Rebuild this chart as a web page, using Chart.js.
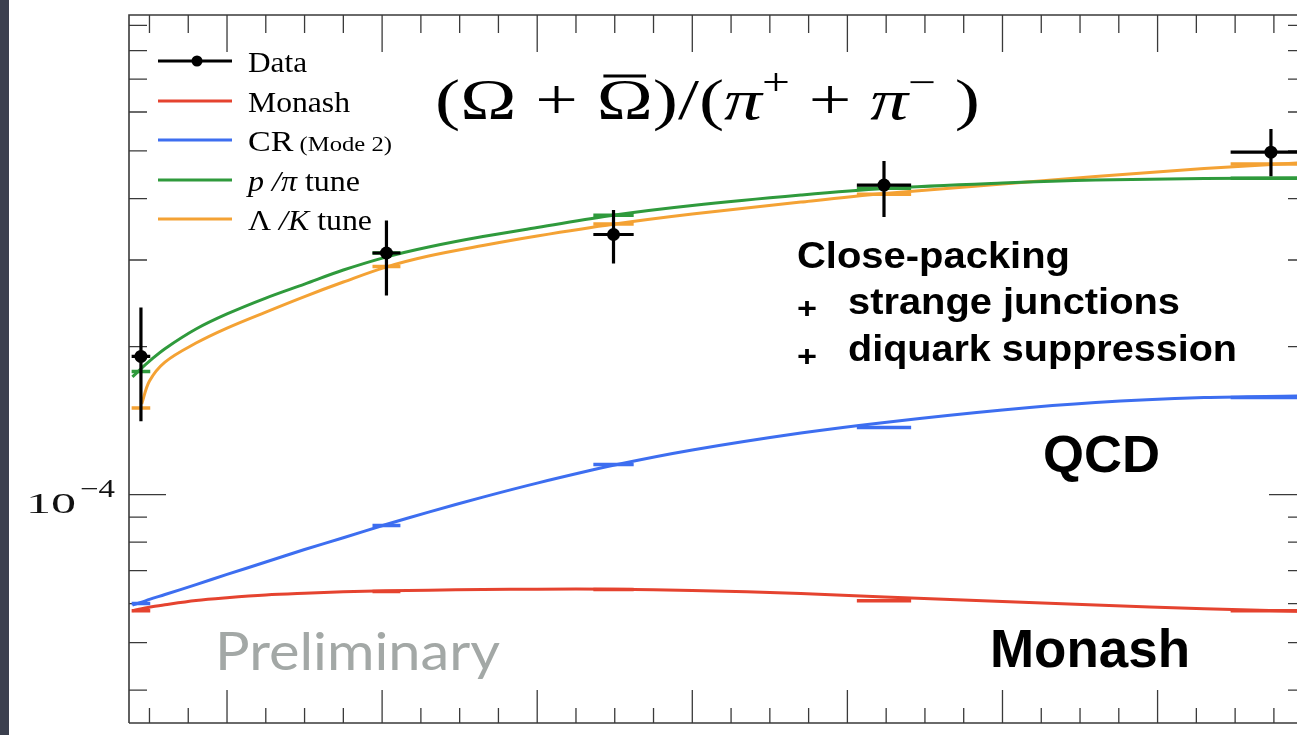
<!DOCTYPE html>
<html><head><meta charset="utf-8">
<script src="https://cdn.jsdelivr.net/npm/chart.js@4/dist/chart.umd.min.js"></script>
<style>
html,body{margin:0;padding:0;overflow:hidden;background:#fff;width:1297px;height:735px}
#strip{position:absolute;left:0;top:0;width:9px;height:735px;background:#3b3f4e;z-index:2}
#c{position:absolute;left:0;top:0}
</style></head><body>
<div id="strip"></div>
<canvas id="c" width="1310" height="735"></canvas>
<script>
// ---- data ----
const binCenters    = [4.45, 20.28, 34.92, 52.36, 77.31];
const binHalfWidths = [0.6, 0.9, 1.3, 1.75, 2.6];
const dataValues    = [1.91e-4, 3.10e-4, 3.38e-4, 4.26e-4, 4.97e-4];
const dataErrHigh   = [2.40e-4, 3.61e-4, 3.79e-4, 4.77e-4, 5.54e-4];
const dataErrLow    = [1.41e-4, 2.54e-4, 2.95e-4, 3.67e-4, 4.44e-4];
// model values per bin (bin markers)
const monashBins    = [0.580e-4, 0.635e-4, 0.641e-4, 0.608e-4, 0.580e-4];
const crMode2Bins   = [0.600e-4, 0.865e-4, 1.151e-4, 1.369e-4, 1.576e-4];
const pPiTuneBins   = [1.78e-4, 3.10e-4, 3.70e-4, 4.20e-4, 4.40e-4];
const lamKTuneBins  = [1.50e-4, 2.91e-4, 3.55e-4, 4.08e-4, 4.70e-4];
// smooth model curves (units of 1e-4)
const curveX        = [3.9, 4.5, 5, 6, 8, 10, 12.5, 15, 17.5, 20.25, 23, 26.5, 30, 35, 40, 47, 52.4, 60, 66, 73, 79];
const monashCurve   = [0.580,0.586,0.590,0.597,0.609,0.617,0.625,0.630,0.634,0.637,0.639,0.641,0.642,0.642,0.638,0.629,0.619,0.606,0.596,0.586,0.579];
const crMode2Curve  = [0.596,0.604,0.612,0.626,0.656,0.688,0.729,0.773,0.817,0.869,0.921,0.988,1.055,1.148,1.232,1.334,1.402,1.486,1.539,1.575,1.587];
const pPiTuneCurve  = [1.735,1.808,1.868,1.980,2.171,2.330,2.510,2.680,2.862,3.041,3.188,3.348,3.492,3.703,3.872,4.066,4.193,4.301,4.362,4.393,4.404];
const lamKTuneCurve = [null,1.528,1.702,1.860,2.033,2.181,2.351,2.528,2.706,2.902,3.056,3.210,3.356,3.550,3.720,3.935,4.095,4.282,4.435,4.604,4.724];
const curveUnit     = 1e-4;
const seriesNames   = ['Data', 'Monash', 'CR', 'p/π tune', 'Λ/K tune'];
const yMajorTicks   = [1e-4];
const yMinorTicks   = [4e-5,5e-5,6e-5,7e-5,8e-5,9e-5,2e-4,3e-4,4e-4,5e-4,6e-4,7e-4,8e-4,9e-4];
const yTickLabel    = ['10', '−4'];
const xMajorTicks   = [10,20,30,40,50,60,70];
const xMinorTicks   = [5,7.5,12.5,15,17.5,22.5,25,27.5,32.5,35,37.5,42.5,45,47.5,52.5,55,57.5,62.5,65,67.5,72.5,75,77.5];

const COL = {monash:'#e5432f', cr:'#3d6ef0', ppi:'#2f9a3c', lk:'#f4a234', data:'#000', axis:'#3a3a3a'};
const pts = (xs, vals, unit) => xs.map((x,i)=>({x, y: vals[i] == null ? null : vals[i]*unit}));

function richText(ctx, segs, x, y, sx, color){
  ctx.save();
  ctx.translate(x, y);
  ctx.scale(sx, 1);
  ctx.fillStyle = color || '#000';
  ctx.textBaseline = 'alphabetic';
  ctx.textAlign = 'left';
  let cx = 0; const pos = [];
  for (const s of segs){
    ctx.font = s.f;
    const w = ctx.measureText(s.t).width;
    ctx.fillText(s.t, cx + (s.dx||0), s.dy||0);
    pos.push({x: x + (cx + (s.dx||0))*sx, w: w*sx});
    cx += w + (s.dx||0);
  }
  ctx.restore();
  return pos;
}
function fitText(ctx, segs, x, y, width, color){
  ctx.save();
  let w = 0;
  for (const s of segs){ ctx.font = s.f; w += ctx.measureText(s.t).width + (s.dx||0); }
  ctx.restore();
  return richText(ctx, segs, x, y, width / w, color);
}

const decor = {
  id: 'decor',
  beforeDatasetsDraw(chart){
    const {ctx, chartArea:a, scales:{x, y}} = chart;
    ctx.save();
    ctx.strokeStyle = COL.axis; ctx.lineWidth = 1.6;
    ctx.beginPath();
    ctx.moveTo(a.left, a.bottom); ctx.lineTo(a.left, a.top); ctx.lineTo(a.right, a.top);
    ctx.lineTo(a.right, a.bottom); ctx.lineTo(a.left, a.bottom);
    ctx.stroke();
    ctx.lineWidth = 1.3;
    ctx.beginPath();
    const xt = (arr, lb, lt) => arr.forEach(v=>{ const px = x.getPixelForValue(v);
      ctx.moveTo(px, a.bottom); ctx.lineTo(px, a.bottom - lb);
      ctx.moveTo(px, a.top); ctx.lineTo(px, a.top + lt); });
    xt(xMajorTicks, 33, 37); xt(xMinorTicks, 15, 18);
    const yt = (arr, l) => arr.forEach(v=>{ const py = y.getPixelForValue(v);
      ctx.moveTo(a.left, py); ctx.lineTo(a.left + l, py);
      ctx.moveTo(a.right, py); ctx.lineTo(a.right - l, py); });
    yt(yMajorTicks, 37); yt(yMinorTicks, 18);
    ctx.stroke();
    const py = y.getPixelForValue(yMajorTicks[0]);
    fitText(ctx, [{t: yTickLabel[0], f: '30px "Liberation Serif"'}], 26, py + 18, 50, '#111');
    fitText(ctx, [{t: yTickLabel[1], f: '25px "Liberation Serif"'}], 80, py + 2, 35, '#111');
    ctx.restore();
  },
  afterDatasetsDraw(chart){
    const {ctx, scales:{x, y}} = chart;
    ctx.save();
    const bins = (vals, col) => {
      ctx.strokeStyle = col; ctx.lineWidth = 3.5;
      ctx.beginPath();
      binCenters.forEach((c,i)=>{ const py = y.getPixelForValue(vals[i]);
        ctx.moveTo(x.getPixelForValue(c - binHalfWidths[i]), py);
        ctx.lineTo(x.getPixelForValue(c + binHalfWidths[i]), py); });
      ctx.stroke();
    };
    bins(monashBins, COL.monash); bins(crMode2Bins, COL.cr);
    bins(lamKTuneBins, COL.lk); bins(pPiTuneBins, COL.ppi);
    ctx.strokeStyle = '#000'; ctx.lineWidth = 3.2;
    ctx.beginPath();
    binCenters.forEach((c,i)=>{
      const px = x.getPixelForValue(c), py = y.getPixelForValue(dataValues[i]);
      ctx.moveTo(px, y.getPixelForValue(dataErrHigh[i])); ctx.lineTo(px, y.getPixelForValue(dataErrLow[i]));
      ctx.moveTo(x.getPixelForValue(c - binHalfWidths[i]), py); ctx.lineTo(x.getPixelForValue(c + binHalfWidths[i]), py);
    });
    ctx.stroke();
    ctx.fillStyle = '#000';
    binCenters.forEach((c,i)=>{ ctx.beginPath();
      ctx.arc(x.getPixelForValue(c), y.getPixelForValue(dataValues[i]), 6.5, 0, Math.PI*2); ctx.fill(); });
    ctx.restore();
  },
  afterDraw(chart){
    const {ctx} = chart;
    ctx.save();
    // legend
    const lx0 = 158, lx1 = 232, tx = 248;
    const rows = [61, 101, 140, 180, 219];
    const cols = ['#000', COL.monash, COL.cr, COL.ppi, COL.lk];
    rows.forEach((ry,i)=>{
      ctx.strokeStyle = cols[i]; ctx.lineWidth = 3;
      ctx.beginPath(); ctx.moveTo(lx0, ry); ctx.lineTo(lx1, ry); ctx.stroke();
    });
    ctx.fillStyle = '#000'; ctx.beginPath(); ctx.arc(197, rows[0], 5.5, 0, Math.PI*2); ctx.fill();
    const SR = '29px "Liberation Serif"', SI = 'italic 29px "Liberation Serif"', SS = '21px "Liberation Serif"';
    fitText(ctx, [{t:'Data', f:SR}], tx, rows[0]+11, 59);
    fitText(ctx, [{t:'Monash', f:SR}], tx, rows[1]+11, 102);
    fitText(ctx, [{t:'CR', f:SR}, {t:' (Mode 2)', f:SS}], tx, rows[2]+11, 144);
    fitText(ctx, [{t:'p', f:SI}, {t:' /', f:SI}, {t:'π', f:SI}, {t:' tune', f:SR}], tx, rows[3]+11, 112);
    fitText(ctx, [{t:'Λ', f:SR}, {t:' /', f:SI}, {t:'K', f:SI}, {t:' tune', f:SR}], tx, rows[4]+11, 124);
    // title
    const TR = '58px "Liberation Serif"', TI = 'italic 58px "Liberation Serif"', TS = '38px "Liberation Serif"';
    const pos = fitText(ctx, [
      {t:'(', f:TR}, {t:'Ω', f:TR}, {t:' + ', f:TR}, {t:'Ω', f:TR}, {t:')/(', f:TR},
      {t:'π', f:TI}, {t:'+', f:TS, dy:-24}, {t:' + ', f:TR}, {t:'π', f:TI}, {t:'−', f:TS, dy:-24}, {t:' )', f:TR}
    ], 435, 119, 545);
    const om = pos[3];
    ctx.strokeStyle = '#000'; ctx.lineWidth = 3;
    ctx.beginPath(); ctx.moveTo(om.x + om.w*0.12, 76); ctx.lineTo(om.x + om.w*0.88, 76); ctx.stroke();
    // annotations
    const B = 'bold 36px "Liberation Sans"';
    fitText(ctx, [{t:'Close-packing', f:B}], 797, 268, 273);
    fitText(ctx, [{t:'+', f:'bold 30px "Liberation Sans"'}], 797, 318, 20);
    fitText(ctx, [{t:'strange junctions', f:B}], 848, 314, 332);
    fitText(ctx, [{t:'+', f:'bold 30px "Liberation Sans"'}], 797, 366, 20);
    fitText(ctx, [{t:'diquark suppression', f:B}], 848, 361, 389);
    fitText(ctx, [{t:'QCD', f:'bold 52px "Liberation Sans"'}], 1043, 472, 117);
    fitText(ctx, [{t:'Monash', f:'bold 53px "Liberation Sans"'}], 990, 667, 200);
    fitText(ctx, [{t:'Preliminary', f:'52px "Lato"'}], 215, 670, 285, '#a3a8a6');
    ctx.restore();
  }
};

const lineDs = (label, vals, col, order) => ({
  type:'line', label, data: pts(curveX, vals, curveUnit), borderColor: col, backgroundColor: col,
  borderWidth: 3, pointRadius: 0, tension: 0.35, fill: false, order, spanGaps: false
});

new Chart(document.getElementById('c'), {
  type: 'line',
  data: { datasets: [
    lineDs(seriesNames[1], monashCurve, COL.monash, 4),
    lineDs(seriesNames[2], crMode2Curve, COL.cr, 3),
    lineDs(seriesNames[4], lamKTuneCurve, COL.lk, 2),
    lineDs(seriesNames[3], pPiTuneCurve, COL.ppi, 1),
    { type:'scatter', label: seriesNames[0], data: pts(binCenters, dataValues, 1), pointRadius: 0, showLine:false, order: 0 }
  ]},
  options: {
    responsive: false, animation: false, devicePixelRatio: 1,
    layout: { padding: { left: 129, top: 15, right: 4, bottom: 12 } },
    plugins: { legend: { display: false }, tooltip: { enabled: false }, title: { display: false } },
    scales: {
      x: { type: 'linear', min: 3.68, max: 79.57, display: false },
      y: { type: 'logarithmic', min: 3.43e-5, max: 9.45e-4, display: false }
    }
  },
  plugins: [decor]
});
</script>
</body></html>
